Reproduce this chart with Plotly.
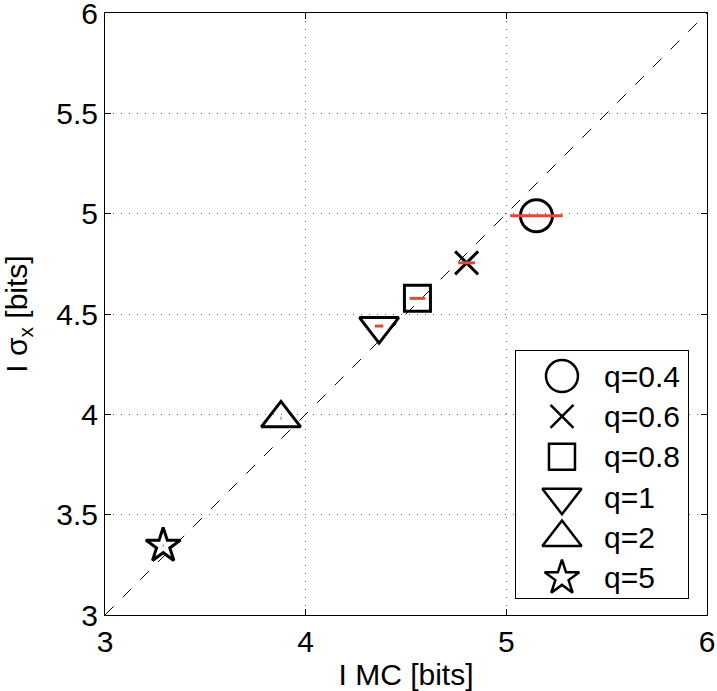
import plotly.graph_objects as go

# ---- data ----
labels = ["q=0.4", "q=0.6", "q=0.8", "q=1", "q=2", "q=5"]
i_mc = [5.150, 4.802, 4.557, 4.366, 3.877, 3.290]        # I MC [bits]
i_sigma = [4.989, 4.755, 4.578, 4.440, 3.980, 3.345]     # I sigma_x [bits]
mc_err = [0.131, 0.042, 0.039, 0.021, 0.0025, 0.002]     # red horizontal bars
diag = [3, 6]
x_ticks = [3, 4, 5, 6]
y_ticks = [3, 3.5, 4, 4.5, 5, 5.5, 6]

# ---- styles ----
symbols = ["circle-open", "x-thin-open", "square-open",
           "triangle-down-open", "triangle-up-open", "star-open"]
sizes = [32, 23, 26, 34, 34, 26]
RED = "#de4a33"
FONT = "Liberation Sans, Arial, Helvetica, sans-serif"
FS = 30

fig = go.Figure()

# dashed y = x reference line
fig.add_trace(go.Scatter(x=diag, y=diag, mode="lines",
                         line=dict(color="black", width=1, dash="12px,13px"),
                         showlegend=False, hoverinfo="skip"))

# markers
for i in range(len(labels)):
    fig.add_trace(go.Scatter(
        x=[i_mc[i]], y=[i_sigma[i]], mode="markers", showlegend=False,
        marker=dict(symbol=symbols[i], size=sizes[i], color="black",
                    line=dict(color="black", width=3))))

# red horizontal error bars drawn on top
fig.add_trace(go.Scatter(
    x=i_mc, y=i_sigma, mode="markers", showlegend=False,
    marker=dict(size=1, opacity=0),
    error_x=dict(type="data", array=mc_err, color=RED, thickness=3, width=0)))

# custom legend on an inset axis
rows = list(range(len(labels)))
for i in rows:
    fig.add_trace(go.Scatter(
        x=[0.267], y=[i], xaxis="x2", yaxis="y2", mode="markers", showlegend=False,
        marker=dict(symbol=symbols[i], size=sizes[i], color="black",
                    line=dict(color="black", width=2.5))))
    fig.add_annotation(x=0.5, y=i, xref="x2", yref="y2", text=labels[i],
                       showarrow=False, xanchor="left", yanchor="middle",
                       font=dict(family=FONT, size=FS, color="black"))

axis_common = dict(showline=True, linecolor="black", linewidth=1, mirror="ticks",
                   ticks="inside", ticklen=6, tickcolor="black",
                   showgrid=True, gridcolor="#666666", gridwidth=1, griddash="1px,7px",
                   zeroline=False, ticklabeloverflow="allow", automargin=False,
                   tickfont=dict(family=FONT, size=FS, color="black"))

fig.update_layout(
    width=717, height=691,
    margin=dict(l=105, r=10, t=13, b=76),
    paper_bgcolor="white", plot_bgcolor="white",
    showlegend=False,
    font=dict(family=FONT, size=FS, color="black"),
    xaxis=dict(range=[3, 6], tickvals=x_ticks, ticktext=[str(v) for v in x_ticks],
               ticklabelstandoff=0,
               title=dict(text="I MC [bits]", font=dict(family=FONT, size=FS), standoff=9),
               **axis_common),
    yaxis=dict(range=[3, 6], tickvals=y_ticks, ticktext=[("%g" % v) for v in y_ticks],
               ticklabelstandoff=0,
               title=dict(text="I σ<sub>x</sub> [bits]", font=dict(family=FONT, size=FS), standoff=24),
               **axis_common),
    xaxis2=dict(domain=[0.683, 0.968], range=[0, 1], anchor="y2",
                showline=True, mirror=True, linecolor="black", linewidth=1,
                showgrid=False, zeroline=False, showticklabels=False, ticks="",
                fixedrange=True),
    yaxis2=dict(domain=[0.028, 0.4385], range=[5.5, -0.62], anchor="x2",
                showline=True, mirror=True, linecolor="black", linewidth=1,
                showgrid=False, zeroline=False, showticklabels=False, ticks="",
                fixedrange=True),
)

# remove the default page margin so the figure fills the window exactly
fig.write_html("out.html",
               config={"displayModeBar": False},
               post_script="document.body.style.margin='0';document.body.style.overflow='hidden';")
